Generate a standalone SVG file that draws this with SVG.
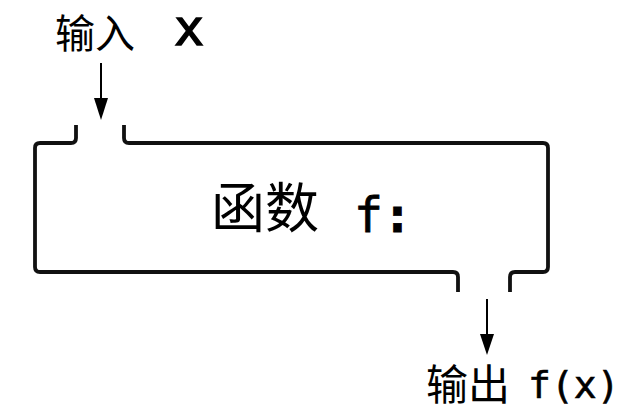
<svg xmlns="http://www.w3.org/2000/svg" width="627" height="416" viewBox="0 0 627 416">
<style>
.cjk{font-family:"Noto Sans CJK SC","Noto Sans",sans-serif;fill:#000}
.mono{font-family:"DejaVu Sans Mono","Liberation Mono",monospace;fill:#000}
.edge{stroke:#000;stroke-width:2;fill:none}
.box{stroke:#111;stroke-width:3.8;fill:none;stroke-linejoin:round;stroke-linecap:butt}
</style>
<rect width="627" height="416" fill="#fff"/>
<g id="input">
<text class="cjk" x="55" y="48" font-size="40">输入</text>
<text class="mono" x="174" y="45" font-size="50" stroke="#000" stroke-width="1.4">x</text>
</g>
<g id="function">
<path class="box" d="M76,125 V138 Q76,143 71,143 H40 Q35,143 35,148 V267 Q35,272 40,272 H453 Q458,272 458,277 V292 M510,292 V277 Q510,272 515,272 H543 Q548,272 548,267 V148 Q548,143 543,143 H129 Q124,143 124,138 V125"/>
<text class="cjk" x="211" y="228" font-size="54">函数</text>
<text class="mono" x="354" y="232" font-size="48" stroke="#000" stroke-width="0.8">f<tspan font-weight="bold">:</tspan></text>
</g>
<g id="output">
<text class="cjk" x="426" y="400" font-size="42">输出</text>
<text class="mono" x="528" y="398" font-size="38" stroke="#000" stroke-width="0.6">f(x)</text>
</g>
<g id="connectors">
<line class="edge" x1="101" y1="63" x2="101" y2="98"/>
<path d="M94,98 L108,98 L101,120 Z" fill="#000"/>
<line class="edge" x1="487" y1="299" x2="487" y2="334"/>
<path d="M480,334 L494,334 L487,355 Z" fill="#000"/>
</g>
</svg>
